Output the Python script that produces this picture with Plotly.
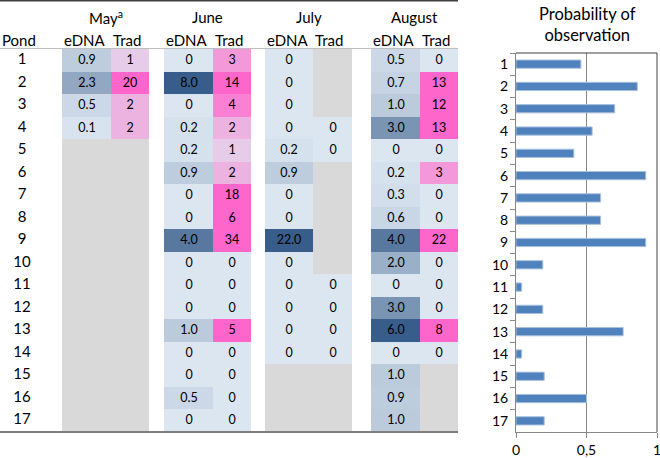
import math
import plotly.graph_objects as go

# ---------------- data ----------------
ponds = list(range(1, 18))
months = ["May<sup>a</sup>", "June", "July", "August"]

may_edna = [0.9, 2.3, 0.5, 0.1] + [None] * 13
may_trad = [1, 20, 2, 2] + [None] * 13
june_edna = [0, 8.0, 0, 0.2, 0.2, 0.9, 0, 0, 4.0, 0, 0, 0, 1.0, 0, 0, 0.5, 0]
june_trad = [3, 14, 4, 2, 1, 2, 18, 6, 34, 0, 0, 0, 5, 0, 0, 0, 0]
july_edna = [0, 0, 0, 0, 0.2, 0.9, 0, 0, 22.0, 0, 0, 0, 0, 0, None, None, None]
july_trad = [None, None, None, 0, 0, None, None, None, None, None, 0, 0, 0, 0, None, None, None]
aug_edna = [0.5, 0.7, 1.0, 3.0, 0, 0.2, 0.3, 0.6, 4.0, 2.0, 0, 3.0, 6.0, 0, 1.0, 0.9, 1.0]
aug_trad = [0, 13, 12, 13, 0, 3, 0, 0, 22, 0, 0, 0, 8, 0, None, None, None]

prob_obs = [0.46, 0.86, 0.70, 0.54, 0.41, 0.92, 0.60, 0.60, 0.92,
            0.19, 0.04, 0.19, 0.76, 0.04, 0.20, 0.50, 0.20]

# ---------------- layout constants (pixels) ----------------
W, H = 660, 458
FONT = "Lato"
# column edges per month: eDNA left, boundary, Trad right
month_edges = [(62, 111, 149), (164, 213, 251), (265, 313, 352), (371, 420, 458)]
ROW_TOP, ROW_BOT = 49, 431.5
TABLE_R = 458


def py(y):
    return 1 - y / H


EDNA_SCALE = [[0, "#DCE6F1"], [1, "#385D8A"]]
TRAD_SCALE = [[0, "#DCE6F1"], [0.1, "#DCE6F1"], [0.1, "#E6CCE8"],
              [0.2, "#E6CCE8"], [1, "#FF66CC"]]


def fmt_edna(v):
    if v is None:
        return " "
    return "0" if v == 0 else f"{v:.1f}"


def fmt_trad(v):
    return " " if v is None else f"{int(v)}"


fig = go.Figure()

columns = [
    (may_edna, may_trad),
    (june_edna, june_trad),
    (july_edna, july_trad),
    (aug_edna, aug_trad),
]

for (edna, trad), (l, m, r) in zip(columns, month_edges):
    for vals, x0, x1, scale, fmt in ((edna, l, m, EDNA_SCALE, fmt_edna),
                                      (trad, m, r, TRAD_SCALE, fmt_trad)):
        z = [[math.nan if v is None else v] for v in vals]
        txt = [[fmt(v)] for v in vals]
        fig.add_trace(go.Heatmap(
            x=[x0, x1], y=ponds, z=z, text=txt, texttemplate="%{text}",
            textfont=dict(family=FONT, size=12.5, color="black"),
            colorscale=scale, zmin=0, zmax=5, showscale=False,
            hoverinfo="skip", xaxis="x", yaxis="y"))

# pond numbers
fig.add_trace(go.Scatter(
    x=[22] * len(ponds), y=ponds, mode="text", text=[str(p) for p in ponds],
    textfont=dict(family=FONT, size=15, color="black"), hoverinfo="skip",
    xaxis="x", yaxis="y"))

# bar chart
fig.add_trace(go.Bar(
    x=prob_obs, y=[str(p) for p in ponds], orientation="h",
    marker=dict(color="#4F81BD", line=dict(color="#A9C0DE", width=1)),
    width=0.37, xaxis="x2", yaxis="y2", hoverinfo="skip"))

shapes = []
# gray background blocks for missing cells
for (l, m, r) in month_edges:
    shapes.append(dict(type="rect", xref="x", yref="y", x0=l, x1=r, y0=0.5, y1=17.5,
                       fillcolor="#D9D9D9", line=dict(width=0), layer="below"))
# table rules
shapes.append(dict(type="line", xref="x", yref="paper", x0=0, x1=TABLE_R,
                   y0=py(0.8), y1=py(0.8), line=dict(color="#404040", width=1.5)))
shapes.append(dict(type="line", xref="x", yref="paper", x0=0, x1=TABLE_R,
                   y0=py(48.5), y1=py(48.5), line=dict(color="#BFBFBF", width=1)))
shapes.append(dict(type="line", xref="x", yref="paper", x0=0, x1=TABLE_R,
                   y0=py(432), y1=py(432), line=dict(color="#7F7F7F", width=2)))
# bar chart box (top and right)
shapes.append(dict(type="line", xref="x2 domain", yref="y2 domain", x0=0, x1=1, y0=1, y1=1,
                   line=dict(color="#404040", width=1)))
shapes.append(dict(type="line", xref="x2 domain", yref="y2 domain", x0=1, x1=1, y0=0, y1=1,
                   line=dict(color="#404040", width=1)))

annotations = []
for name, (l, m, r) in zip(months, month_edges):
    annotations.append(dict(text=name, x=(l + r) / 2, y=py(17), xref="x", yref="paper",
                            showarrow=False, font=dict(family=FONT, size=15, color="black"),
                            xanchor="center", yanchor="middle"))
    annotations.append(dict(text="eDNA", x=l, y=py(40), xref="x", yref="paper",
                            showarrow=False, font=dict(family=FONT, size=15, color="black"),
                            xanchor="left", yanchor="middle"))
    annotations.append(dict(text="Trad", x=m, y=py(40), xref="x", yref="paper",
                            showarrow=False, font=dict(family=FONT, size=15, color="black"),
                            xanchor="left", yanchor="middle"))
annotations.append(dict(text="Pond", x=0, y=py(40), xref="x", yref="paper",
                        showarrow=False, font=dict(family=FONT, size=15, color="black"),
                        xanchor="left", yanchor="middle"))
annotations.append(dict(text="Probability of<br>observation", x=587 / W, y=py(25),
                        xref="paper", yref="paper", showarrow=False,
                        font=dict(family=FONT, size=16.5, color="black"),
                        xanchor="center", yanchor="middle"))

fig.update_layout(
    width=W, height=H, margin=dict(l=0, r=0, t=0, b=0, autoexpand=False),
    paper_bgcolor="white", plot_bgcolor="white", showlegend=False,
    font=dict(family=FONT, color="black"),
    xaxis=dict(domain=[0, 460 / W], range=[0, 460], visible=False, automargin=False),
    yaxis=dict(domain=[py(ROW_BOT), py(ROW_TOP)], range=[17.5, 0.5], visible=False,
               automargin=False),
    xaxis2=dict(domain=[516 / W, 657 / W], range=[0, 1], anchor="y2", automargin=False,
                tickvals=[0, 0.5, 1], ticktext=["0", "0,5", "1"],
                ticklabeloverflow="allow",
                showgrid=True, gridcolor="#868686", gridwidth=1, zeroline=False,
                showline=True, linecolor="#868686", linewidth=1,
                ticks="outside", ticklen=5, tickcolor="#868686",
                tickfont=dict(family=FONT, size=14, color="black")),
    yaxis2=dict(domain=[py(432), py(53)], anchor="x2", type="category", automargin=False,
                categoryorder="array", categoryarray=[str(p) for p in ponds],
                autorange="reversed", showgrid=False, zeroline=False,
                showline=True, linecolor="#868686", linewidth=1,
                ticks="outside", tickson="boundaries", ticklen=5, tickcolor="#868686",
                ticklabelstandoff=4,
                tickfont=dict(family=FONT, size=14, color="black")),
    shapes=shapes, annotations=annotations,
)

fig.write_html(
    "out.html",
    config={"displayModeBar": False},
    post_script="document.body.style.margin='0';document.body.style.overflow='hidden';",
)
